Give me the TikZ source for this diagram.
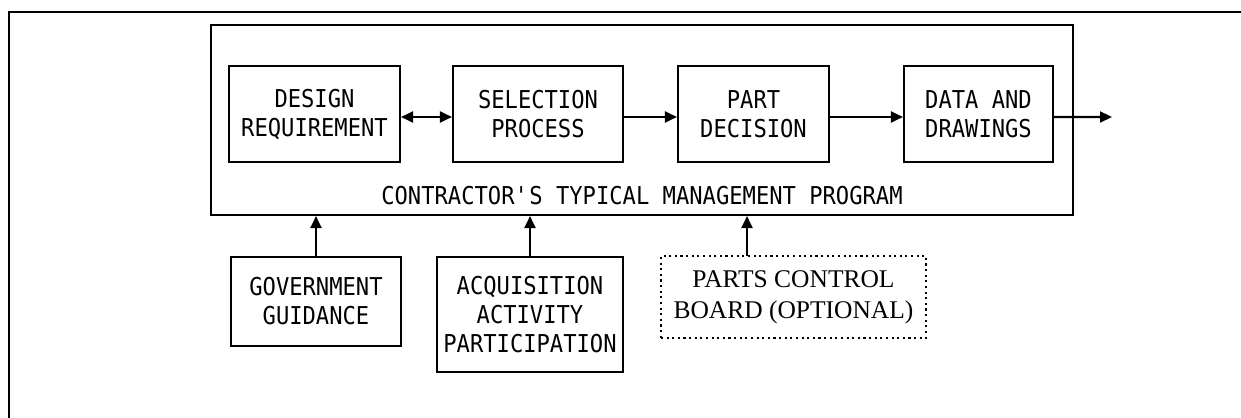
\documentclass[tikz,border=0pt]{standalone}
\usepackage{fontspec}
\usetikzlibrary{arrows.meta}

\newfontfamily\plotfont[FakeStretch=0.9]{DejaVu Sans Mono}
\newfontfamily\boardfont{Liberation Serif}

\tikzset{
    plot/.style = {font=\plotfont\fontsize{14pt}{16.5pt}\selectfont},
    box/.style = {plot, draw, line width=1.2pt, align=center, inner sep=0pt},
    flow/.style = {line width=1.2pt},
}

\begin{document}
\begin{tikzpicture}[x=0.2mm, y=-0.2mm, >={Triangle[length=2.4mm, width=2.2mm]}]
    \useasboundingbox (0, 0) rectangle (1241, 418);
    \draw[line width=1.4pt] (1241, 12) -- (9, 12) -- (9, 418);

    % the management program and its steps
    \node[box, minimum width=172.4mm, minimum height=38mm] (prog) at (642, 120) {};
    \node[plot] (progname) at (642, 195.5)
        {CONTRACTOR\textquotesingle S TYPICAL MANAGEMENT PROGRAM};
    \node[box, minimum width=34.2mm, minimum height=19.2mm] (design) at (314.5, 114)
        {DESIGN\\REQUIREMENT};
    \node[box, minimum width=34mm, minimum height=19.2mm] (select) at (538, 114)
        {SELECTION\\PROCESS};
    \node[box, minimum width=30.2mm, minimum height=19.2mm] (part) at (753.5, 114)
        {PART\\DECISION};
    \node[box, minimum width=29.8mm, minimum height=19.2mm] (data) at (978.5, 114)
        {DATA AND\\DRAWINGS};
    \coordinate (out) at (1112, 117);

    % arrows run a little below the box centres
    \draw[flow, <->] ([yshift=-0.6mm]design.east) -- ([yshift=-0.6mm]select.west);
    \draw[flow, ->] ([yshift=-0.6mm]select.east) -- ([yshift=-0.6mm]part.west);
    \draw[flow, ->] ([yshift=-0.6mm]part.east) -- ([yshift=-0.6mm]data.west);
    \draw[flow, ->] ([yshift=-0.6mm]data.east) -- (out);

    % inputs from below
    \node[box, minimum width=34mm, minimum height=17.8mm] (gov) at (316, 301.5)
        {GOVERNMENT\\GUIDANCE};
    \node[box, minimum width=37.2mm, minimum height=23mm] (acq) at (530, 314.5)
        {ACQUISITION\\ACTIVITY\\PARTICIPATION};
    \node[box, dotted, minimum width=53mm, minimum height=16.4mm,
        font=\boardfont\fontsize{14.5pt}{17.6pt}\selectfont] (board) at (793.5, 297)
        {PARTS CONTROL\\BOARD (OPTIONAL)};
    \coordinate (boardin) at (747, 256);

    \draw[flow, ->] (gov) -- (gov |- prog.south);
    \draw[flow, ->] (acq) -- (acq |- prog.south);
    \draw[flow, ->] (boardin) -- (boardin |- prog.south);
\end{tikzpicture}
\end{document}
